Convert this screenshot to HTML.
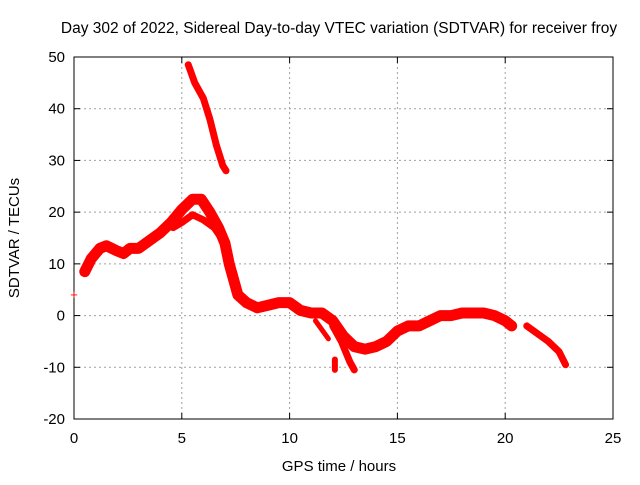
<!DOCTYPE html>
<html><head><meta charset="utf-8"><style>
body{margin:0;background:#fff;font-family:"Liberation Sans",sans-serif;}
svg text{font-family:"Liberation Sans",sans-serif;font-size:14px;fill:#000;}
</style></head><body>
<svg width="640" height="480">
<rect width="640" height="480" fill="#fff"/>
<text x="339" y="33" text-anchor="middle" style="font-size:15.5px">Day 302 of 2022, Sidereal Day-to-day VTEC variation (SDTVAR) for receiver froy</text>
<g id="grid"></g>
<g id="axes"></g>
<g id="data"></g>
<text x="339" y="471" text-anchor="middle" style="font-size:15px">GPS time / hours</text>
<text transform="translate(19,238) rotate(-90)" text-anchor="middle" style="font-size:15px">SDTVAR / TECUs</text>
</svg>
<script>
const xTicks=[0,5,10,15,20,25];
const yTicks=[-20,-10,0,10,20,30,40,50];
const seriesUpperHours=[5.3,5.6,6.0,6.3,6.6,6.9,7.05];
const seriesUpperValues=[48.5,45,42,38,33,29,28];
const seriesMainHours=[0.5,0.8,1.2,1.5,2,2.3,2.6,3,3.5,4,4.5,5,5.5,5.9,6.3,6.7,7,7.2,7.4,7.6,8,8.5,9,9.5,10,10.5,11,11.5,12,12.5,13,13.5,14,14.5,15,15.5,16,16.5,17,17.5,18,18.5,19,19.5,20,20.3];
const seriesMainValues=[8.5,11,13,13.5,12.5,12,13,13,14.5,16,18,20.5,22.5,22.5,20,17,14,10,7,4,2.5,1.5,2,2.5,2.5,1,0.5,0.5,-1,-4,-6,-6.5,-6,-5,-3,-2,-2,-1,0,0,0.5,0.5,0.5,0,-1,-2];
const seriesLowerPeakHours=[4.6,5,5.5,6,6.5,7];
const seriesLowerPeakValues=[17,18,19.5,18.5,17,14];
const seriesDropHours=[12,12.4,12.8,13];
const seriesDropValues=[-2,-5,-9,-10.5];
const seriesSideHours=[11.2,11.8];
const seriesSideValues=[-1,-4.5];
const seriesIsoHours=[12.1,12.1];
const seriesIsoValues=[-8.5,-10.5];
const seriesLateHours=[21,21.5,22,22.5,22.8];
const seriesLateValues=[-2,-3.5,-5,-7,-9.5];
const x0=74,x1=613,y0=419,y1=57;
const X=h=>x0+(h-0)/(25-0)*(x1-x0);
const Y=v=>y0-(v+20)/70*(y0-y1);
const NS="http://www.w3.org/2000/svg";
function mk(t,a,p){const e=document.createElementNS(NS,t);for(const k in a)e.setAttribute(k,a[k]);p.appendChild(e);return e;}
const grid=document.getElementById('grid'),axes=document.getElementById('axes'),data=document.getElementById('data');
xTicks.forEach(t=>{
 if(t>0&&t<25){const l=mk('line',{x1:X(t),x2:X(t),y1:y1,y2:y0,stroke:'#a0a0a0','stroke-dasharray':'2,3'},grid);
 
 }
 mk('line',{x1:X(t),x2:X(t),y1:y0,y2:y0-6,stroke:'#000'},axes);
 mk('line',{x1:X(t),x2:X(t),y1:y1,y2:y1+6,stroke:'#000'},axes);
 const tx=mk('text',{x:X(t),y:y0+24,'text-anchor':'middle',style:'font-size:15px'},axes);tx.textContent=t;
 
 
});
yTicks.forEach(t=>{
 if(t>-20&&t<50){const l=mk('line',{x1:x0,x2:x1,y1:Y(t),y2:Y(t),stroke:'#a0a0a0','stroke-dasharray':'2,3'},grid);
 
 }
 mk('line',{x1:x0,x2:x0+6,y1:Y(t),y2:Y(t),stroke:'#000'},axes);
 mk('line',{x1:x1,x2:x1-6,y1:Y(t),y2:Y(t),stroke:'#000'},axes);
 const tx=mk('text',{x:x0-9,y:Y(t)+5,'text-anchor':'end',style:'font-size:15px'},axes);tx.textContent=t;
 
 
});
mk('rect',{x:x0,y:y1,width:x1-x0,height:y0-y1,fill:'none',stroke:'#000'},axes);
function series(hs,vs,name,w){
 const p=mk('polyline',{points:hs.map((h,i)=>X(h)+','+Y(vs[i])).join(' '),fill:'none',stroke:'#ff0000','stroke-width':w,'stroke-linejoin':'round','stroke-linecap':'round'},data);
 
 
}
series(seriesUpperHours,seriesUpperValues,'series-upper',7);
series(seriesMainHours,seriesMainValues,'series-main',11);
series(seriesLowerPeakHours,seriesLowerPeakValues,'series-lower-peak',7);
series(seriesDropHours,seriesDropValues,'series-drop',7);
series(seriesSideHours,seriesSideValues,'series-side',5);
series(seriesIsoHours,seriesIsoValues,'series-isolated',6);
series(seriesLateHours,seriesLateValues,'series-late',7);
const pt=mk('text',{x:X(0),y:Y(4.2)+5,'text-anchor':'middle',style:'fill:#ff0000;font-size:13px'},data);
pt.textContent='+';


</script>
</body></html>
